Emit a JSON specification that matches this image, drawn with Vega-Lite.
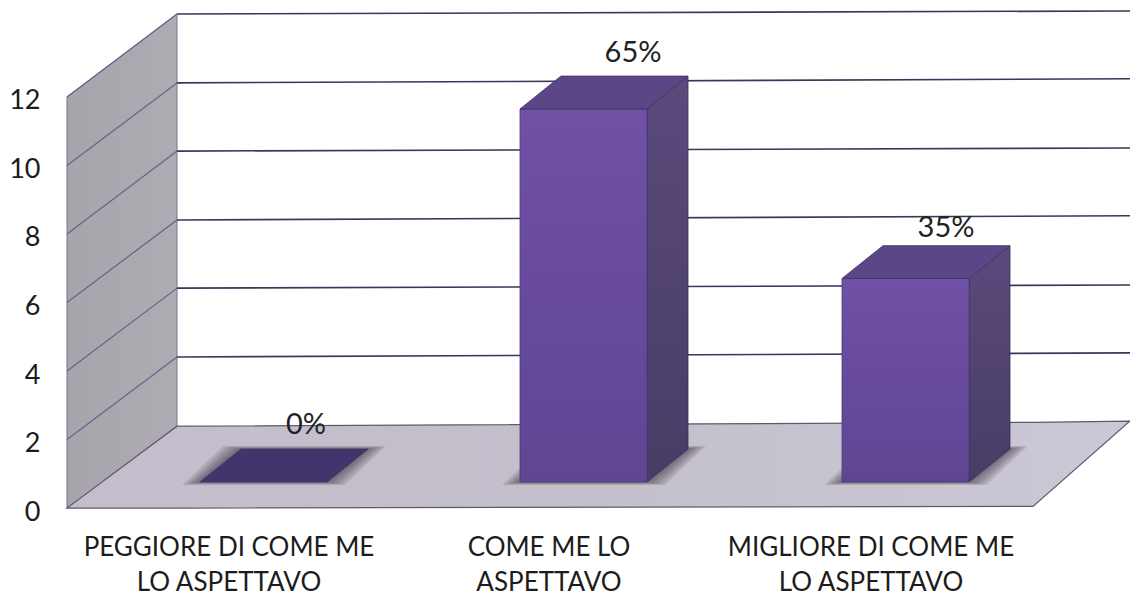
{
"$schema":"https://vega.github.io/schema/vega-lite/v6.json",
"width":1063,"height":593,
"autosize":{"type":"none"},
"padding":{"left":67,"top":0,"right":0,"bottom":0},
"background":"white",
"config":{"view":{"stroke":null},"font":"Lato"},
"datasets":{
 "bars":[
  {"category":"PEGGIORE DI COME ME\nLO ASPETTAVO","value":0,"pct":"0%","pos":200},
  {"category":"COME ME LO\nASPETTAVO","value":11,"pct":"65%","pos":520},
  {"category":"MIGLIORE DI COME ME\nLO ASPETTAVO","value":6,"pct":"35%","pos":842}
 ],
 "wall":[{"x":67,"lo":0,"hi":12},{"x":177,"lo":2.39,"hi":14.42}],
 "floor":[{"x":67,"lo":0,"hi":0},{"x":177,"lo":0,"hi":2.39},{"x":1033,"lo":0.05,"hi":2.5},{"x":1130,"lo":2.54,"hi":2.54}],
 "grid":[
  {"tick":2,"x":67,"lo":2},{"tick":2,"x":177,"lo":4.41},{"tick":2,"x":1130,"lo":4.53},
  {"tick":4,"x":67,"lo":4},{"tick":4,"x":177,"lo":6.42},{"tick":4,"x":1130,"lo":6.51},
  {"tick":6,"x":67,"lo":6},{"tick":6,"x":177,"lo":8.41},{"tick":6,"x":1130,"lo":8.53},
  {"tick":8,"x":67,"lo":8},{"tick":8,"x":177,"lo":10.42},{"tick":8,"x":1130,"lo":10.51},
  {"tick":10,"x":67,"lo":10},{"tick":10,"x":177,"lo":12.41},{"tick":10,"x":1130,"lo":12.53},
  {"tick":12,"x":67,"lo":12},{"tick":12,"x":177,"lo":14.42},{"tick":12,"x":1130,"lo":14.51}
 ]
},
"encoding":{
 "x":{"field":"x","type":"quantitative","scale":{"domain":[67,1130],"nice":false,"zero":false},"axis":null},
 "y":{"field":"lo","type":"quantitative","scale":{"domain":[-2.48,14.83],"nice":false,"zero":false},
  "axis":{"title":null,"values":[0,2,4,6,8,10,12],"domain":false,"ticks":false,"grid":false,"labelFontSize":27,"labelColor":"#1c1c1c","labelPadding":27,"labelOffset":4,"labelFont":"Lato"}}
},
"layer":[
 {"data":{"name":"wall"},"mark":{"type":"area","stroke":"#77728f","strokeWidth":1,"color":{"x1":0,"y1":0,"x2":1,"y2":0,"gradient":"linear","stops":[{"offset":0,"color":"#a7a5ab"},{"offset":1,"color":"#aeacb2"}]}},"encoding":{"y2":{"field":"hi"}}},
 {"data":{"name":"floor"},"mark":{"type":"area","stroke":"#5c5a6e","strokeWidth":1.2,"color":{"x1":0,"y1":0,"x2":1,"y2":0,"gradient":"linear","stops":[{"offset":0,"color":"#c6bdcc"},{"offset":0.5,"color":"#c3bfcb"},{"offset":1,"color":"#cdc8d5"}]}},"encoding":{"y2":{"field":"hi"}}},
 {"data":{"name":"grid"},"transform":[{"filter":"datum.x<=177"}],"mark":{"type":"line","color":"#6a5f8c","strokeWidth":1.2},"encoding":{"detail":{"field":"tick"}}},
 {"data":{"name":"grid"},"transform":[{"filter":"datum.x>=177"}],"mark":{"type":"line","color":"#38385a","strokeWidth":1.6},"encoding":{"detail":{"field":"tick"}}},
 {"data":{"name":"bars"},
  "transform":[
   {"calculate":"[18,15,12,9,6,3]","as":"e"},{"flatten":["e"]},
   {"calculate":"[0,1,2,3]","as":"k"},{"flatten":["k"]},
   {"calculate":"datum.pos + (datum.k===0 ? -datum.e : datum.k===1 ? 41-datum.e : datum.k===2 ? 127+datum.e : 168+datum.e)","as":"x"},
   {"calculate":"0.76 - datum.e*0.005 + (datum.k===3 ? 0.96+datum.e*0.01 : 0)","as":"lo"},
   {"calculate":"0.76 - datum.e*0.005 + (datum.k===0 ? 0 : 0.96+datum.e*0.01)","as":"hi"},
   {"calculate":"datum.category + datum.e","as":"g"}
  ],
  "mark":{"type":"area","color":"#2c2838","opacity":0.11},
  "encoding":{"y2":{"field":"hi"},"detail":{"field":"g"}}},
 {"data":{"name":"bars"},
  "transform":[
   {"filter":"datum.value>0"},
   {"calculate":"[0,41]","as":"k"},{"flatten":["k"]},
   {"calculate":"datum.pos+127+datum.k","as":"x"},
   {"calculate":"0.76+datum.k/41*0.96","as":"lo"},
   {"calculate":"0.76+datum.value*0.99+datum.k/41*0.96","as":"hi"}
  ],
  "mark":{"type":"area","stroke":"#3a2f5a","strokeWidth":0.8,"color":{"x1":0,"y1":0,"x2":0,"y2":1,"gradient":"linear","stops":[{"offset":0,"color":"#5b4a7c"},{"offset":1,"color":"#483c66"}]}},
  "encoding":{"y2":{"field":"hi"},"detail":{"field":"category"}}},
 {"data":{"name":"bars"},
  "transform":[
   {"filter":"datum.value>0"},
   {"calculate":"datum.pos","as":"x"},{"calculate":"datum.pos+127","as":"x2"},
   {"calculate":"0.76","as":"lo"},{"calculate":"0.76+datum.value*0.99","as":"hi"}
  ],
  "mark":{"type":"rect","stroke":"#4a3a78","strokeWidth":0.8,"color":{"x1":0,"y1":0,"x2":0,"y2":1,"gradient":"linear","stops":[{"offset":0,"color":"#6f52a6"},{"offset":0.5,"color":"#674a9d"},{"offset":1,"color":"#5f4692"}]}},
  "encoding":{"x2":{"field":"x2"},"y2":{"field":"hi"}}},
 {"data":{"name":"bars"},
  "transform":[
   {"calculate":"[0,41,127,168]","as":"k"},{"flatten":["k"]},
   {"calculate":"datum.pos+datum.k","as":"x"},
   {"calculate":"0.76+datum.value*0.99+(datum.k===168?0.96:0)","as":"lo"},
   {"calculate":"0.76+datum.value*0.99+(datum.k===0?0:0.96)","as":"hi"}
  ],
  "mark":{"type":"area","stroke":"#40325f","strokeWidth":0.8},
  "encoding":{"y2":{"field":"hi"},"detail":{"field":"category"},
   "color":{"condition":{"test":"datum.value===0","value":"#43356b"},"value":"#5b4687"}}},
 {"data":{"name":"bars"},
  "transform":[
   {"calculate":"datum.pos+({'0':106,'11':113,'6':104})[datum.value]","as":"x"},
   {"calculate":"({'0':2.42,'11':13.29,'6':8.18})[datum.value]","as":"lo"}
  ],
  "mark":{"type":"text","fontSize":29,"font":"Lato","color":"#222222","baseline":"middle","align":"center"},
  "encoding":{"text":{"field":"pct"}}},
 {"data":{"name":"bars"},
  "transform":[
   {"calculate":"datum.pos+29","as":"x"},{"calculate":"-0.80","as":"lo"}
  ],
  "mark":{"type":"text","fontSize":26,"font":"Lato","color":"#1c1c1c","baseline":"top","align":"center","lineBreak":"\n","lineHeight":35},
  "encoding":{"text":{"field":"category"}}}
]
}
